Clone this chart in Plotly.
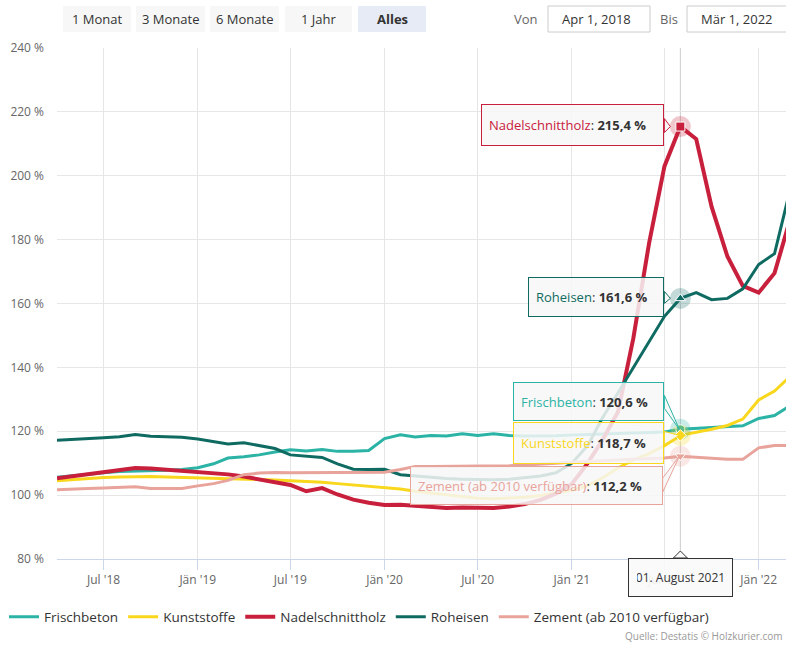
import pandas as pd
import plotly.graph_objects as go

# ---------------- data ----------------
months = pd.date_range("2018-04-01", periods=48, freq="MS")

frischbeton = [105.6, 106.1, 106.6, 107.0, 107.4, 107.5, 107.5, 107.8, 108.0, 108.6, 109.8, 111.6,
               112.0, 112.6, 113.5, 114.2, 113.8, 114.3, 113.7, 113.7, 114.0, 117.7, 118.9, 118.2,
               118.7, 118.5, 119.2, 118.7, 119.2, 118.7, 118.5, 118.5, 118.6, 118.8, 119.0, 119.2,
               119.3, 119.5, 119.6, 119.8, 120.6, 120.9, 121.1, 121.3, 121.7, 124.0, 124.9, 127.8]
kunststoffe = [104.5, 104.9, 105.2, 105.5, 105.7, 105.8, 105.8, 105.7, 105.6, 105.5, 105.3, 105.2,
               105.0, 104.9, 104.7, 104.5, 104.3, 104.0, 103.6, 103.2, 102.8, 102.4, 101.9, 101.2,
               100.6, 100.0, 99.4, 99.0, 98.9, 99.0, 99.3, 99.9, 100.6, 101.5, 103.0, 105.3,
               108.5, 111.0, 113.0, 115.5, 118.7, 119.6, 120.6, 121.8, 123.8, 129.8, 132.6, 136.8]
nadelschnittholz = [105.3, 105.9, 106.6, 107.3, 107.9, 108.5, 108.3, 107.9, 107.7, 107.3, 106.8, 106.5,
                    105.8, 105.0, 104.3, 103.2, 101.2, 102.2, 100.2, 98.6, 97.6, 96.9, 97.0, 96.6,
                    96.2, 96.0, 96.1, 96.0, 96.0, 96.4, 97.2, 98.5, 100.5, 103.5, 110.0, 117.0,
                    126.0, 149.0, 179.0, 203.0, 215.4, 211.5, 190.3, 174.7, 165.5, 163.4, 169.5, 185.0]
roheisen = [117.2, 117.4, 117.6, 118.0, 118.3, 119.0, 118.4, 118.3, 118.1, 117.6, 116.7, 116.0,
            116.4, 115.4, 114.6, 112.6, 112.2, 111.8, 109.8, 108.1, 108.0, 108.1, 106.4, 106.0,
            105.5, 105.2, 105.0, 104.8, 104.8, 105.0, 105.4, 106.0, 107.0, 110.0, 115.5, 124.0,
            132.0, 140.0, 148.0, 156.0, 161.6, 163.4, 161.2, 161.6, 164.6, 172.2, 175.6, 194.0]
zement = [101.7, 102.0, 102.1, 102.2, 102.4, 102.6, 102.1, 102.0, 102.1, 102.9, 103.6, 104.6,
          106.4, 106.9, 107.1, 107.0, 107.0, 107.0, 107.0, 107.0, 107.1, 107.2, 108.0, 109.0,
          109.0, 109.0, 109.1, 109.1, 109.2, 109.2, 109.4, 109.6, 110.0, 110.3, 110.6, 110.8,
          111.0, 111.2, 111.4, 111.6, 112.2, 111.8, 111.4, 111.2, 111.2, 114.8, 115.5, 115.5]

series_names = ["Frischbeton", "Kunststoffe", "Nadelschnittholz", "Roheisen", "Zement (ab 2010 verfügbar)"]
series_values = [frischbeton, kunststoffe, nadelschnittholz, roheisen, zement]
series_colors = ["#2bb3a5", "#f9d71c", "#c8203c", "#0f6b62", "#e8a39b"]
series_symbols = ["circle", "diamond", "square", "triangle-up", "triangle-down"]
series_widths = [3, 3, 4, 3, 3]

tick_dates = ["2018-07-01", "2019-01-01", "2019-07-01", "2020-01-01", "2020-07-01",
              "2021-01-01", "2021-07-01", "2022-01-01"]
tick_labels = ["Jul '18", "Jän '19", "Jul '19", "Jän '20", "Jul '20", "Jän '21", "Jul '21", "Jän '22"]

hover_idx = 40  # August 2021
range_buttons = ["1 Monat", "3 Monate", "6 Monate", "1 Jahr", "Alles"]

# ---------------- layout helpers (pixel -> paper) ----------------
FW, FH = 786, 646
L, R, T, B = 57, 786, 48, 559
W, H = R - L, B - T


def px(x):
    return (x - L) / W


def py(y):
    return (B - y) / H


FONT = "Open Sans, Noto Sans, DejaVu Sans, sans-serif"
hx = months[hover_idx]

fig = go.Figure()

for name, vals, col, w in zip(series_names, series_values, series_colors, series_widths):
    fig.add_trace(go.Scatter(x=months, y=vals, name=name, mode="lines",
                             line=dict(color=col, width=w), hoverinfo="skip"))

# hover halos and markers
for name, vals, col, sym in zip(series_names, series_values, series_colors, series_symbols):
    fig.add_trace(go.Scatter(x=[hx], y=[vals[hover_idx]], mode="markers", showlegend=False,
                             marker=dict(size=21, color=col, opacity=0.25), hoverinfo="skip"))
    fig.add_trace(go.Scatter(x=[hx], y=[vals[hover_idx]], mode="markers", showlegend=False,
                             marker=dict(size=9, color=col, symbol=sym,
                                         line=dict(color="white", width=1)), hoverinfo="skip"))

shapes = []
annotations = []

# crosshair
shapes.append(dict(type="line", xref="x", yref="paper", x0=hx, x1=hx, y0=0, y1=1,
                   line=dict(color="#cccccc", width=1), layer="between"))

# tooltips: (series index, box width, box height, x offset of right edge, y shift of center, notch path)
tips = [
    (2, 183, 42, -16, 2, "M -16,8 L -10,0 L -16,-6 Z"),
    (3, 136, 40, -16, 1, "M -16,7 L -10,0 L -16,-5 Z"),
    (0, 151, 39, -16, 28, "M -16,34 L -1,0 L -16,21 Z"),
    (1, 151, 42, -16, -7.5, "M -16,4 L -1,0 L -16,-9 Z"),
    (4, 253, 39, -17.7, -29, "M -17.7,-22 L -1,0 L -17.7,-36 Z"),
]
for si, bw, bh, xo, ys, notch in tips:
    col = series_colors[si]
    v = series_values[si][hover_idx]
    vtxt = f"{v:.1f}".replace(".", ",") + " %"
    shapes.append(dict(type="path", xref="x", yref="y", xsizemode="pixel", ysizemode="pixel",
                       xanchor=hx, yanchor=v, path=notch,
                       fillcolor="rgba(247,247,247,0.9)", line=dict(color=col, width=1),
                       layer="above"))
    annotations.append(dict(
        x=hx, y=v, xref="x", yref="y", xanchor="right", yanchor="middle",
        xshift=xo, yshift=ys, showarrow=False,
        text=f"<span style='color:{col}'>{series_names[si]}</span>: <b>{vtxt}</b>",
        font=dict(size=13, color="#333333", family=FONT),
        bgcolor="rgba(247,247,247,0.85)", bordercolor=col, borderwidth=1, borderpad=7,
        width=bw - 16, height=bh - 16, align="left", valign="middle"))

# date tooltip under axis
shapes.append(dict(type="path", xref="x", yref="paper", xsizemode="pixel", ysizemode="pixel",
                   xanchor=hx, yanchor=py(558), path="M -7,0 L 0,7 L 7,0 Z",
                   fillcolor="rgba(250,250,250,1)", line=dict(color="#333333", width=1),
                   layer="above"))
annotations.append(dict(
    x=hx, y=py(577.5), xref="x", yref="paper", xanchor="center", yanchor="middle",
    showarrow=False, text=months[hover_idx].strftime("%d. ") + "August " + months[hover_idx].strftime("%Y"),
    font=dict(size=12, color="#333333", family=FONT),
    bgcolor="rgba(250,250,250,0.93)", bordercolor="#333333", borderwidth=1, borderpad=8,
    width=105 - 18, height=39 - 18))

# range buttons
btn_x = [(63, 131), (136, 205), (210, 279), (285, 352), (358, 426)]
for (x0, x1), lab in zip(btn_x, range_buttons):
    sel = lab == "Alles"
    shapes.append(dict(type="rect", xref="paper", yref="paper", x0=px(x0), x1=px(x1),
                       y0=py(32), y1=py(6), fillcolor="#e6ebf5" if sel else "#f7f7f7",
                       line=dict(width=0), layer="above"))
    annotations.append(dict(x=px((x0 + x1) / 2), y=py(19), xref="paper", yref="paper",
                            xanchor="center", yanchor="middle",
                            showarrow=False, text=f"<b>{lab}</b>" if sel else lab,
                            font=dict(size=13, color="#333333", family=FONT)))

# date inputs
annotations.append(dict(x=px(540), y=py(19), xref="paper", yref="paper", xanchor="right",
                        yanchor="middle", showarrow=False, text="Von",
                        font=dict(size=13, color="#666666", family=FONT)))
annotations.append(dict(x=px(680), y=py(19), xref="paper", yref="paper", xanchor="right",
                        yanchor="middle", showarrow=False, text="Bis",
                        font=dict(size=13, color="#666666", family=FONT)))
for (x0, x1), txt in [((548, 650), "Apr 1, 2018"), ((687, 800), "Mär 1, 2022")]:
    shapes.append(dict(type="rect", xref="paper", yref="paper", x0=px(x0), x1=px(x1),
                       y0=py(32), y1=py(6), fillcolor="white",
                       line=dict(color="#cccccc", width=1), layer="above"))
    annotations.append(dict(x=px(x0 + 12), y=py(19), xref="paper", yref="paper", xanchor="left",
                            yanchor="middle", showarrow=False, text=txt,
                            font=dict(size=13, color="#333333", family=FONT)))

# source credit
annotations.append(dict(x=px(785), y=py(636), xref="paper", yref="paper", xanchor="right",
                        yanchor="middle", showarrow=False, text="Quelle: Destatis © Holzkurier.com",
                        font=dict(size=10, color="#999999", family=FONT)))

fig.update_layout(
    width=FW, height=FH,
    margin=dict(l=L, r=FW - R, t=T, b=FH - B),
    paper_bgcolor="white", plot_bgcolor="white",
    font=dict(family=FONT, color="#333333"),
    showlegend=True,
    legend=dict(orientation="h", x=px(4), xanchor="left", y=py(617), yanchor="middle",
                font=dict(size=13.5, color="#333333", family=FONT), itemwidth=30,
                bgcolor="rgba(0,0,0,0)", tracegroupgap=0),
    shapes=shapes, annotations=annotations,
    xaxis=dict(type="date", range=["2018-04-01", "2022-02-23 10:00"],
               tickvals=tick_dates, ticktext=tick_labels,
               showgrid=True, gridcolor="#e6e6e6", gridwidth=1,
               ticks="outside", ticklen=10, tickcolor="#ccd6eb",
               showline=True, linecolor="#ccd6eb", linewidth=1, zeroline=False,
               tickfont=dict(size=12, color="#666666", family=FONT), fixedrange=True),
    yaxis=dict(range=[80, 240], dtick=20, tick0=80, ticksuffix=" %",
               showgrid=True, gridcolor="#e6e6e6", gridwidth=1, zeroline=False,
               ticks="", ticklabelstandoff=12,
               tickfont=dict(size=12, color="#666666", family=FONT), fixedrange=True),
)

fig.write_html("out.html", config={"displayModeBar": False},
               post_script="document.body.style.margin='0px';document.body.style.overflow='hidden';")
